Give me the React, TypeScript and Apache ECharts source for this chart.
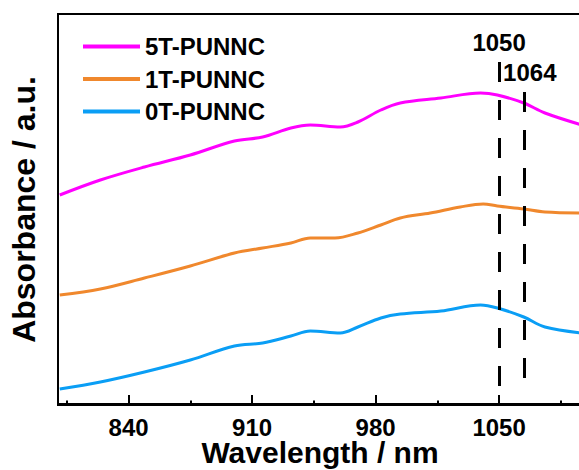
import React, { useEffect, useRef } from "react";
import * as echarts from "echarts";

const wl5T = [801, 824, 849, 875, 900, 916, 932, 943, 960, 970, 983, 994, 1017, 1039.5, 1049, 1064, 1076, 1097];
const abs5T = [209, 224, 237, 249, 263, 267, 276, 279, 277, 282, 294, 301, 306, 311, 309, 301, 291, 279];

const wl1T = [801, 824, 849, 875, 900, 916, 932, 943, 957, 970, 983, 994, 1011, 1028, 1041, 1049, 1064, 1076, 1097];
const abs1T = [109, 115, 126, 138, 151, 156, 161, 166, 166, 171, 179, 186, 191, 197, 200, 198, 195, 192, 191];

const wl0T = [801, 824, 849, 875, 900, 916, 932, 943, 960, 970, 983, 994, 1017, 1039.5, 1049, 1064, 1076, 1097];
const abs0T = [15, 22, 32, 44, 58, 61, 68, 73, 71, 77, 86, 90, 93, 99, 96, 87, 77, 71];

const majorTicks = [840, 910, 980, 1050];
const minorTicks = [805, 875, 945, 1015, 1085];

const peakA = 1050;
const peakB = 1064;

const FONT = "Liberation Sans, Arial, sans-serif";

function pairs(xs: number[], ys: number[]) {
  return xs.map((x, i) => [x, ys[i]]);
}

export default function App() {
  const ref = useRef<HTMLDivElement>(null);
  useEffect(() => {
    if (!ref.current) return;
    const chart = echarts.init(ref.current, undefined, { renderer: "svg" });
    const lineSeries = (name: string, color: string, data: number[][], extra: any = {}) => ({
      name,
      type: "line",
      data,
      smooth: 0.35,
      symbol: "none",
      lineStyle: { color, width: 3 },
      itemStyle: { color },
      ...extra,
    });
    chart.setOption({
      animation: false,
      backgroundColor: "#fff",
      grid: {
        left: 58,
        top: 14,
        right: -3,
        bottom: 65,
        outerBoundsMode: "none",
        containLabel: false,
        show: true,
        borderColor: "#000",
        borderWidth: 2,
      },
      legend: {
        orient: "vertical",
        left: 78,
        top: 29,
        icon: "rect",
        itemWidth: 57,
        itemHeight: 4,
        itemGap: 7.5,
        data: ["5T-PUNNC", "1T-PUNNC", "0T-PUNNC"],
        textStyle: { fontFamily: FONT, fontWeight: "bold", fontSize: 24, lineHeight: 25, color: "#000" },
      },
      xAxis: [
        {
          type: "value",
          min: 800,
          max: 1097,
          name: "Wavelength / nm",
          nameLocation: "middle",
          nameGap: 34,
          nameMoveOverlap: false,
          nameTextStyle: { fontFamily: FONT, fontWeight: "bold", fontSize: 30, lineHeight: 26, color: "#000" },
          axisLine: { show: true, lineStyle: { color: "#000", width: 2 } },
          axisTick: { show: true, inside: true, length: 9, lineStyle: { color: "#000", width: 2 }, customValues: majorTicks },
          axisLabel: {
            customValues: majorTicks,
            formatter: (v: number) => String(v),
            fontFamily: FONT,
            fontWeight: "bold",
            fontSize: 24,
            lineHeight: 20,
            color: "#000",
            margin: 12,
          },
          splitLine: { show: false },
        },
        {
          type: "value",
          min: 800,
          max: 1097,
          position: "bottom",
          axisLine: { show: false },
          axisTick: { show: true, inside: true, length: 4.5, lineStyle: { color: "#000", width: 2 }, customValues: minorTicks },
          axisLabel: { show: false },
          splitLine: { show: false },
        },
      ],
      yAxis: {
        type: "value",
        min: -1,
        max: 390,
        name: "Absorbance / a.u.",
        nameLocation: "middle",
        nameGap: 18,
        nameMoveOverlap: false,
        nameTextStyle: { fontFamily: FONT, fontWeight: "bold", fontSize: 32, color: "#000" },
        axisLine: { show: true, lineStyle: { color: "#000", width: 2 } },
        axisTick: { show: false },
        axisLabel: { show: false },
        splitLine: { show: false },
      },
      series: [
        lineSeries("5T-PUNNC", "#FF00FF", pairs(wl5T, abs5T)),
        lineSeries("1T-PUNNC", "#F0882D", pairs(wl1T, abs1T)),
        lineSeries("0T-PUNNC", "#0A9EF5", pairs(wl0T, abs0T), {
          markLine: {
            silent: true,
            symbol: "none",
            lineStyle: { color: "#000", width: 3, type: [20, 18] },
            label: {
              show: true,
              position: "start",
              distance: 8,
              fontFamily: FONT,
              fontWeight: "bold",
              fontSize: 24,
              color: "#000",
            },
            data: [
              [
                { coord: [peakA, 342], label: { formatter: String(peakA) } },
                { coord: [peakA, -1] },
              ],
              [
                { coord: [peakB, 312], label: { formatter: String(peakB), padding: [0, 0, 0, 12] } },
                { coord: [peakB, 19] },
              ],
            ],
          },
        }),
      ],
    });
    return () => chart.dispose();
  }, []);
  return <div ref={ref} style={{ width: 579, height: 470, position: "absolute", left: 0, top: 0 }} />;
}
